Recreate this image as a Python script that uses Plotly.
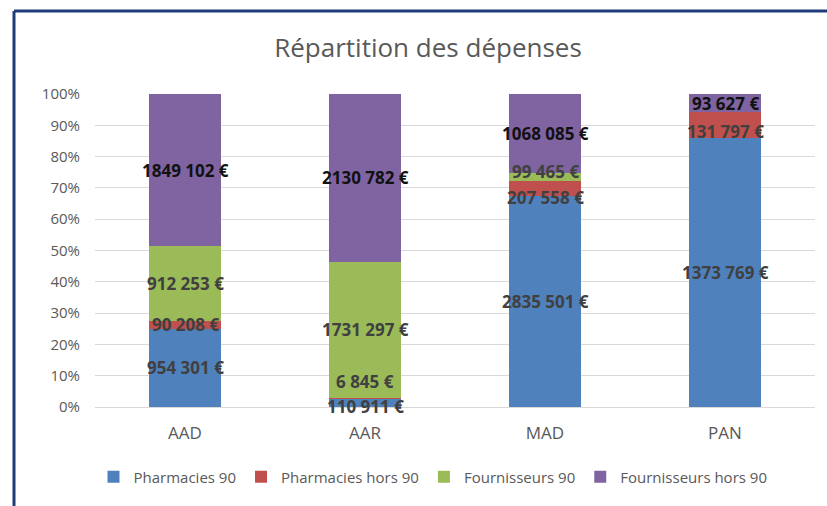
import plotly.graph_objects as go

categories = ["AAD", "AAR", "MAD", "PAN"]
series_names = ["Pharmacies 90", "Pharmacies hors 90", "Fournisseurs 90", "Fournisseurs hors 90"]
pharmacies_90 = [954301, 110911, 2835501, 1373769]
pharmacies_hors_90 = [90208, 6845, 207558, 131797]
fournisseurs_90 = [912253, 1731297, 99465, 0]
fournisseurs_hors_90 = [1849102, 2130782, 1068085, 93627]
tick_labels = ["0%", "10%", "20%", "30%", "40%", "50%", "60%", "70%", "80%", "90%", "100%"]

series_values = [pharmacies_90, pharmacies_hors_90, fournisseurs_90, fournisseurs_hors_90]
colors = ["#4F81BD", "#C0504D", "#9BBB59", "#8064A2"]
label_colors = ["#404040", "#404040", "#404040", "#111111"]

# manual label offsets (px) mimicking the hand-placed labels of the original
shifts = {(1, 0): -4, (1, 1): 17, (2, 1): -9, (2, 2): 6, (3, 1): -6}

FONT = "Open Sans"

def fmt(v):
    if v >= 1000:
        return f"{v // 1000} {v % 1000:03d} €"
    return f"{v} €"

fig = go.Figure()
for name, vals, col in zip(series_names, series_values, colors):
    fig.add_trace(go.Bar(
        x=categories, y=vals, name=name, marker=dict(color=col, line=dict(width=0)),
        hoverinfo="skip",
    ))

totals = [sum(s[i] for s in series_values) for i in range(len(categories))]
annotations = []
for ci, cat in enumerate(categories):
    cum = 0.0
    for si, vals in enumerate(series_values):
        v = vals[ci]
        pct = v / totals[ci] * 100
        if v > 0:
            annotations.append(dict(
                x=cat, y=cum + pct / 2, xref="x", yref="y", text="<b>" + fmt(v) + "</b>",
                showarrow=False, yshift=shifts.get((ci, si), 0),
                font=dict(family=FONT, size=17, color=label_colors[si]),
            ))
        cum += pct

fig.update_layout(
    barmode="stack", barnorm="percent", bargap=0.6,
    width=827, height=506,
    margin=dict(l=95, r=12, t=94, b=99),
    paper_bgcolor="white", plot_bgcolor="white",
    font=dict(family=FONT, color="#595959"),
    title=dict(text="Répartition des dépenses", x=428 / 827, xanchor="center",
               y=1 - 48 / 506, yanchor="middle",
               font=dict(family=FONT, size=26, color="#595959")),
    xaxis=dict(showgrid=False, showline=False, ticks="", tickfont=dict(size=17, color="#595959"),
               ticklabelstandoff=14),
    yaxis=dict(range=[0, 100], tickvals=list(range(0, 101, 10)), ticktext=tick_labels,
               showgrid=True, gridcolor="#D9D9D9", gridwidth=1, zeroline=True,
               zerolinecolor="#D9D9D9", zerolinewidth=1, showline=False,
               tickfont=dict(size=15, color="#595959"), ticklen=0, ticks="", ticklabelstandoff=14),
    legend=dict(orientation="h", x=(433 - 95) / 720, xanchor="center", y=(407 - 477) / 313,
                yanchor="middle", font=dict(size=15, color="#595959"), traceorder="normal",
                itemwidth=30),
    annotations=annotations,
    shapes=[
        dict(type="line", xref="paper", yref="paper", x0=(14 - 95) / 720, x1=(830 - 95) / 720,
             y0=(407 - 11) / 313, y1=(407 - 11) / 313, line=dict(color="#1F3C7A", width=3)),
        dict(type="line", xref="paper", yref="paper", x0=(14 - 95) / 720, x1=(14 - 95) / 720,
             y0=(407 - 11) / 313, y1=(407 - 510) / 313, line=dict(color="#1F3C7A", width=3)),
    ],
)

fig.write_html("out.html", config={"displayModeBar": False},
               post_script="document.body.style.margin='0px';")
